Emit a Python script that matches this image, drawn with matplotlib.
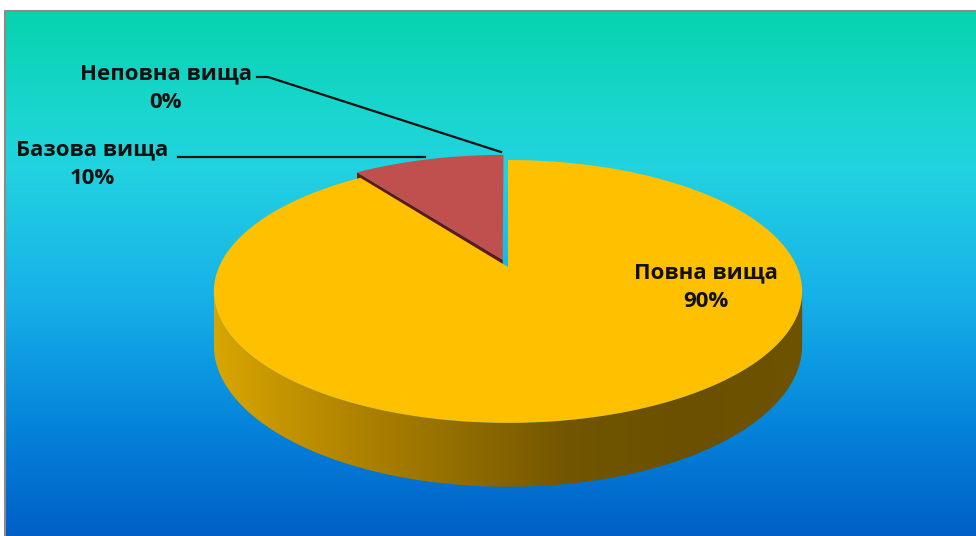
import numpy as np
import matplotlib
matplotlib.use('Agg')
import matplotlib.pyplot as plt
from matplotlib.colors import LinearSegmentedColormap
from matplotlib.patches import Polygon

# data
categories = ['Повна вища', 'Базова вища', 'Неповна вища']
values = [90, 10, 0]
colors = ['#FFC000', '#C0504D', '#4F81BD']
side_colors = ['#D4A200', '#5E1A1A', '#2C4D75']
explode = [0.0, 0.06, 0.0]

plt.rcParams['font.family'] = ['Open Sans', 'DejaVu Sans']

W, H = 976, 536
fig = plt.figure(figsize=(W / 100, H / 100), dpi=100)
ax = fig.add_axes([0, 0, 1, 1])
ax.set_xlim(0, W)
ax.set_ylim(H, 0)
ax.axis('off')

# background gradient
bg_stops = [(0.0, '#07D3AE'), (0.2, '#1AD6D0'), (0.3, '#22D2E0'),
            (0.55, '#16B0E8'), (0.8, '#0482DA'), (1.0, '#0060C6')]
bg_cmap = LinearSegmentedColormap.from_list('bg', bg_stops)
grad = np.linspace(0, 1, 256).reshape(-1, 1)
ax.imshow(grad, cmap=bg_cmap, aspect='auto', extent=[5, W, H, 11], zorder=0)
ax.plot([5, 5, W], [H, 11, 11], color='#8a8a8a', lw=1.5, zorder=1)

# perspective projection of the pie
cx, cy = 508, 267
s, sk, p, h = 289, 126.9, 0.186, 52


def proj(X, Y, Z=0.0):
    w = 1 + p * Y
    return cx + s * X / w, cy - sk * Y / w + h * Z / w


def arc(t0, t1, dx=0.0, dy=0.0, Z=0.0, n=200):
    t = np.radians(np.linspace(t0, t1, n))
    return np.column_stack(proj(np.cos(t) + dx, np.sin(t) + dy, Z))


total = sum(values)
bounds = []
acc = 0
for v in values:
    a0 = 90 - acc / total * 360
    acc += v
    a1 = 90 - acc / total * 360
    bounds.append((a0, a1))

# side gradient for the outer rim
side_cmap = LinearSegmentedColormap.from_list(
    'side', ['#D8A600', '#B68800', '#957000', '#725600', '#6A5000', '#6E5300'])

# radial side faces of exploded slices (mostly hidden by the top face)
for i, (a0, a1) in enumerate(bounds):
    if values[i] == 0 or explode[i] == 0:
        continue
    mid = np.radians((a0 + a1) / 2)
    dx, dy = explode[i] * np.cos(mid), explode[i] * np.sin(mid)
    for edge, nrm in ((a0, a0 + 90), (a1, a1 - 90)):
        if np.sin(np.radians(nrm)) >= 0:
            continue
        t = np.radians(edge)
        top = [proj(dx, dy), proj(np.cos(t) + dx, np.sin(t) + dy)]
        bot = [proj(np.cos(t) + dx, np.sin(t) + dy, 1), proj(dx, dy, 1)]
        ax.add_patch(Polygon(top + bot, closed=True, fc=side_colors[i], ec='none', zorder=2))

# front rim of the big slice
tl = 180 + np.degrees(np.arcsin(p))
tr = 360 - np.degrees(np.arcsin(p))
for i, (a0, a1) in enumerate(bounds):
    if values[i] == 0 or explode[i] != 0:
        continue
    lo, hi = max(min(a0, a1), tl - 360), min(max(a0, a1), tr - 360)
    if lo >= hi:
        continue
    top = arc(lo, hi)
    bot = arc(hi, lo, Z=1)
    poly = Polygon(np.vstack([top, bot]), closed=True, fc='none', ec='none', zorder=3)
    ax.add_patch(poly)
    im = ax.imshow(np.linspace(0, 1, 256).reshape(1, -1), cmap=side_cmap, aspect='auto',
                   extent=[top[:, 0].min(), top[:, 0].max(), bot[:, 1].max(), top[:, 1].min()],
                   zorder=3)
    im.set_clip_path(poly)

# top faces
for i, (a0, a1) in enumerate(bounds):
    if values[i] == 0:
        continue
    mid = np.radians((a0 + a1) / 2)
    dx, dy = explode[i] * np.cos(mid), explode[i] * np.sin(mid)
    pts = np.vstack([[proj(dx, dy)], arc(a0, a1, dx, dy)])
    ax.add_patch(Polygon(pts, closed=True, fc=colors[i], ec='none', zorder=4))

# labels
label_pos = {'Повна вища': (706, 287), 'Базова вища': (92, 164), 'Неповна вища': (166, 88)}
for name, v in zip(categories, values):
    x, y = label_pos[name]
    ax.text(x, y, f'{name}\n{v}%', ha='center', va='center', ma='center',
            fontsize=16, fontweight='bold', color='#111111', linespacing=1.45, zorder=6)

# leader lines
ax.plot([178, 425], [157, 157], color='#111111', lw=1.6, zorder=5)
ax.plot([257, 268, 501], [77, 77, 152], color='#111111', lw=1.6, zorder=5)

fig.savefig('out.png', dpi=100)
